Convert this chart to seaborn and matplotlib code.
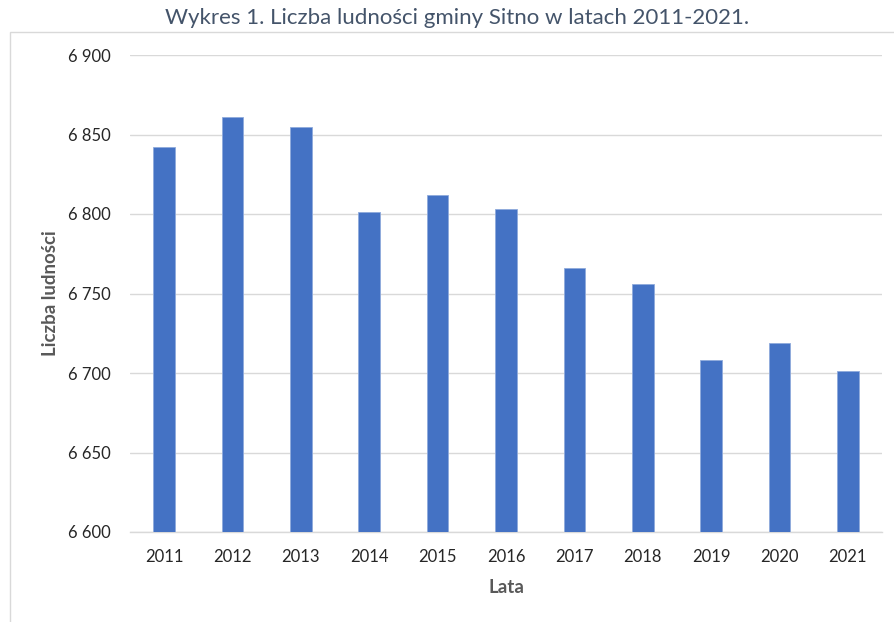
import matplotlib
matplotlib.use("Agg")
import matplotlib.pyplot as plt
import seaborn as sns
import pandas as pd
from matplotlib.patches import Rectangle
from matplotlib.ticker import FuncFormatter

years = ["2011", "2012", "2013", "2014", "2015", "2016", "2017", "2018", "2019", "2020", "2021"]
population = [6842, 6861, 6855, 6801, 6812, 6803, 6766, 6756, 6708, 6719, 6701]
y_ticks = [6600, 6650, 6700, 6750, 6800, 6850, 6900]

title = "Wykres 1. Liczba ludności gminy Sitno w latach 2011-2021."
x_label = "Lata"
y_label = "Liczba ludności"

sns.set_style("white")
plt.rcParams["font.family"] = ["Lato", "DejaVu Sans"]

df = pd.DataFrame({"Rok": years, "Ludnosc": population})

W, H = 894, 622
fig = plt.figure(figsize=(W / 100, H / 100), dpi=100)
ax = fig.add_axes([130 / W, 1 - 532 / H, (882 - 130) / W, (532 - 55) / H])

sns.barplot(data=df, x="Rok", y="Ludnosc", color="#4472C4", width=0.316,
            saturation=1, ax=ax, zorder=3)
for p in ax.patches:
    p.set_edgecolor("#8FAADC")
    p.set_linewidth(0.6)

ax.set_ylim(6600, 6900)
ax.set_xlim(-0.5, len(years) - 0.5)
ax.set_yticks(y_ticks)
ax.yaxis.set_major_formatter(FuncFormatter(lambda v, _: f"{int(v):,}".replace(",", " ")))
ax.grid(axis="y", color="#d9d9d9", linewidth=1, zorder=0)
ax.set_axisbelow(True)
for s in ["top", "right", "left"]:
    ax.spines[s].set_visible(False)
ax.spines["bottom"].set_color("#d9d9d9")
ax.spines["bottom"].set_linewidth(1)
ax.tick_params(axis="both", length=0, labelsize=12, colors="#262626")
ax.tick_params(axis="y", pad=13.5)
ax.tick_params(axis="x", pad=12)

ax.set_xlabel(x_label, fontsize=13.5, fontweight="bold", color="#595959", labelpad=10)
ax.set_ylabel(y_label, fontsize=13.5, fontweight="bold", color="#595959", labelpad=7)

fig.text(457 / W, 1 - 18 / H, title, ha="center", va="center", fontsize=16, color="#44546A")

fig.patches.append(Rectangle((10 / W, -0.01), (W + 10) / W, 1 - 32 / H + 0.01,
                             transform=fig.transFigure, fill=False,
                             edgecolor="#d9d9d9", linewidth=1))

fig.savefig("out.png", dpi=100)
